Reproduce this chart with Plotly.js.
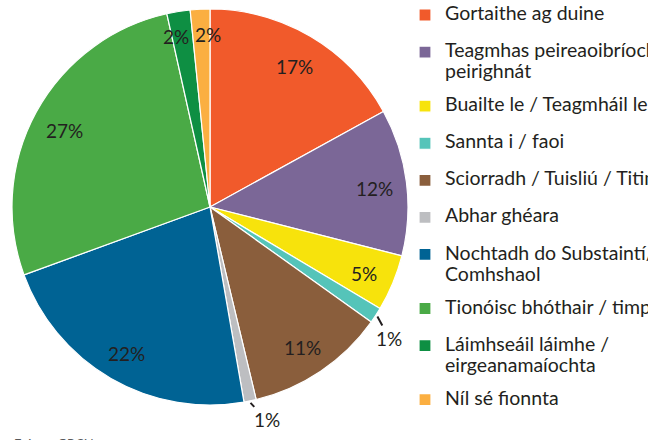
<!DOCTYPE html>
<html>
<head>
<meta charset="utf-8">
<script src="https://cdn.plot.ly/plotly-3.0.1.min.js"></script>
<style>
html, body { margin: 0; padding: 0; background: #ffffff; overflow: hidden; }
#clip { width: 648px; height: 440px; overflow: hidden; }
#chart { width: 760px; height: 440px; }
</style>
</head>
<body>
<div id="clip"><div id="chart"></div></div>
<script>
// ---- data ----
const categories = [
  "Gortaithe ag duine",
  "Teagmhas peireaoibríochta<br>peirighnát",
  "Buailte le / Teagmháil le rud",
  "Sannta i / faoi",
  "Sciorradh / Tuisliú / Titim",
  "Abhar ghéara",
  "Nochtadh do Substaintí/<br>Comhshaol",
  "Tionóisc bhóthair / timpiste",
  "Láimhseáil láimhe /<br>eirgeanamaíochta",
  "Níl sé fionnta"
];
const shares = [17.0, 12.0, 4.6, 1.3, 11.4, 1.0, 22.2, 27.1, 1.9, 1.6];
const colours = ["#F15A2B", "#7B6797", "#F7E30C", "#55C4B9", "#8A5E3C",
                 "#BDBEC1", "#006394", "#4AAA46", "#0E8F43", "#FBAF41"];
const sourceNote = "Foinse: GRCN";

// ---- layout constants ----
// The figure is drawn wider than the view and clipped at 648 px,
// so the long legend entries are cut at the right edge as in the source.
const W = 760, H = 440;
const cx = 210, cy = 207, R = 198;   // pie centre / radius in px
const labelFont = {family: "Lato, sans-serif", size: 19, color: "#231F20"};
const legendTextSize = 19.5;         // visible legend text size
const legendLineSize = 13.1;         // controls legend row spacing
const outsideIdx = [3, 5];           // slices labelled outside with a leader line

const total = shares.reduce((a, b) => a + b, 0);
const pctText = shares.map(v => Math.round(v / total * 100) + "%");

// mid-angle of each slice (clockwise from 12 o'clock)
let acc = 0;
const midAngles = shares.map(v => {
  const a = (acc + v / 2) / total * 2 * Math.PI;
  acc += v;
  return a;
});
const toPaper = (px, py) => ({x: px / W, y: 1 - py / H});

const annotations = [];
shares.forEach((v, i) => {
  const a = midAngles[i];
  if (outsideIdx.includes(i)) {
    const tip = toPaper(cx + (R + 2) * Math.sin(a), cy - (R + 2) * Math.cos(a));
    annotations.push({
      xref: "paper", yref: "paper", x: tip.x, y: tip.y,
      text: pctText[i], font: labelFont, showarrow: true, arrowhead: 0,
      arrowwidth: 2, arrowcolor: "#231F20",
      ax: i === 3 ? 12 : 16, ay: i === 3 ? 22 : 17, standoff: 0
    });
  } else {
    const rf = v < 3 ? 0.87 : 0.84;
    const p = toPaper(cx + R * rf * Math.sin(a), cy - R * rf * Math.cos(a));
    annotations.push({
      xref: "paper", yref: "paper", x: p.x, y: p.y,
      xanchor: v < 3 ? (i === 8 ? "right" : "left") : "center",
      xshift: v < 3 ? (i === 8 ? 8 : -8) : 0,
      yshift: v < 3 ? 0 : -3,
      yanchor: "middle", text: pctText[i], font: labelFont, showarrow: false
    });
  }
});
annotations.push({
  xref: "paper", yref: "paper", x: 12 / W, y: 6 / H, xanchor: "left", yanchor: "top",
  text: sourceNote, showarrow: false,
  font: {family: "Lato, sans-serif", size: 13, color: "#58595B"}
});

// legend entries: visible text at full size; continuation lines shifted down a little
const legendLabels = categories.map(c =>
  c.split("<br>").map((s, k) =>
    '<span style="font-size:' + legendTextSize + 'px' + (k > 0 ? ';baseline-shift:-4px' : '') + '">' + s + '</span>'
  ).join("<br>") + "<br> "
);

const trace = {
  type: "pie",
  labels: legendLabels,
  values: shares,
  sort: false,
  direction: "clockwise",
  rotation: 0,
  marker: {colors: colours, line: {color: "#FFFFFF", width: 1.2}},
  textinfo: "none",
  hoverinfo: "percent",
  domain: {
    x: [(cx - R) / W, (cx + R) / W],
    y: [1 - (cy + R) / H, 1 - (cy - R) / H]
  }
};

const layout = {
  width: W, height: H,
  margin: {l: 0, r: 0, t: 0, b: 0},
  paper_bgcolor: "#FFFFFF",
  showlegend: true,
  legend: {
    x: 405 / W, xanchor: "left", y: 1, yanchor: "top",
    valign: "top",
    font: {family: "Lato, sans-serif", size: legendLineSize, color: "#231F20"},
    bgcolor: "rgba(0,0,0,0)", borderwidth: 0, traceorder: "normal"
  },
  annotations: annotations
};

Plotly.newPlot("chart", [trace], layout, {displayModeBar: false, staticPlot: true});
</script>
</body>
</html>
